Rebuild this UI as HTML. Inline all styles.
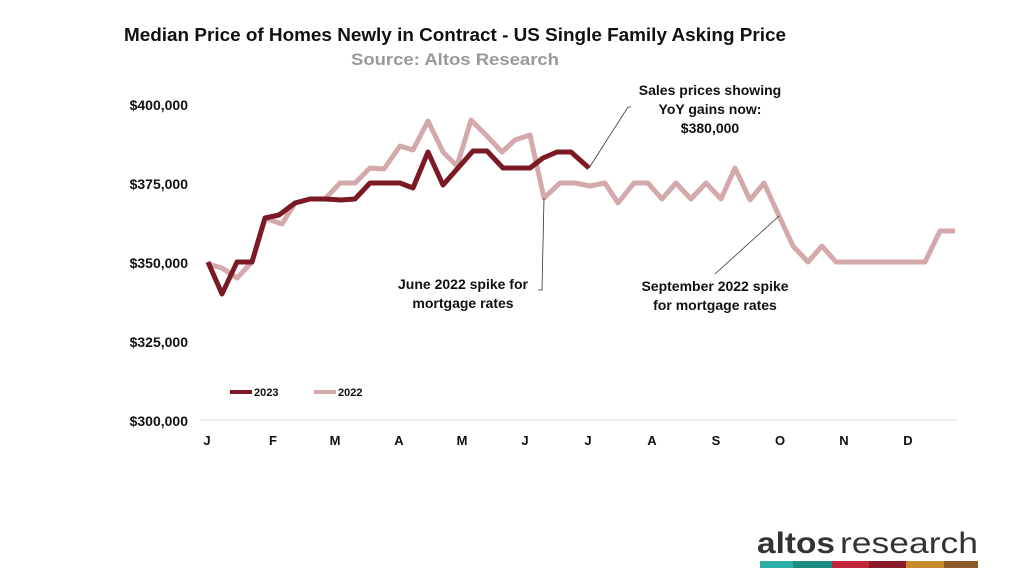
<!DOCTYPE html>
<html><head><meta charset="utf-8"><style>
body{margin:0;background:#fff;width:1024px;height:576px;overflow:hidden}
svg text{font-family:"Liberation Sans",sans-serif;font-weight:bold}
</style></head><body>
<svg width="1024" height="576" viewBox="0 0 1024 576">
<text x="455" y="41" font-size="18" text-anchor="middle" fill="#111" textLength="662" lengthAdjust="spacingAndGlyphs">Median Price of Homes Newly in Contract - US Single Family Asking Price</text>
<text x="455" y="65" font-size="17" text-anchor="middle" fill="#999" textLength="208" lengthAdjust="spacingAndGlyphs">Source: Altos Research</text>
<g font-size="14" fill="#111" text-anchor="end">
<text x="188" y="110">$400,000</text>
<text x="188" y="189">$375,000</text>
<text x="188" y="268">$350,000</text>
<text x="188" y="347">$325,000</text>
<text x="188" y="426">$300,000</text>
</g>
<line x1="200" y1="420" x2="957" y2="420" stroke="#d9d9d9" stroke-width="1"/>
<g font-size="13" fill="#111" text-anchor="middle">
<text x="207" y="445">J</text><text x="273" y="445">F</text><text x="335" y="445">M</text><text x="399" y="445">A</text><text x="462" y="445">M</text><text x="525" y="445">J</text><text x="588" y="445">J</text><text x="652" y="445">A</text><text x="716" y="445">S</text><text x="780" y="445">O</text><text x="844" y="445">N</text><text x="908" y="445">D</text>
</g>
<polyline fill="none" stroke="#d4a9ac" stroke-width="5" stroke-linejoin="round" points="208,264 222,268 237,278 252,262 265,218 282,224 295,203 310,199 325,199 340,183 355,183 370,168 384,169 400,146 413,150 428,121 443,152 457,166 471,120 487,136 502,152 515,140 530,135 544,198 560,183 575,183 590,186 605,183 618,203 634,183 648,183 662,199 676,183 691,199 706,183 721,199 735,168 750,200 764,183 780,218 793,246 808,262 822,246 836,262 925,262 940,231 955,231"/>
<polyline fill="none" stroke="#7b1a25" stroke-width="5" stroke-linejoin="round" points="208,262 222,294 237,262 252,262 265,218 279,215 295,203 310,199 325,199 341,200 355,199 370,183 388,183 400,183 413,188 428,152 443,185 458,168 473,151 487,151 503,168 519,168 530,168 543,158 557,152 571,152 589,168"/>
<polyline fill="none" stroke="#333" stroke-width="0.8" points="589,168 628,107 631,107"/>
<polyline fill="none" stroke="#333" stroke-width="0.8" points="544,198 542,290 538,290"/>
<line x1="779" y1="216" x2="715" y2="274" stroke="#333" stroke-width="0.8"/>
<g font-size="14" fill="#111" text-anchor="middle">
<text x="710" y="95">Sales prices showing</text>
<text x="710" y="114">YoY gains now:</text>
<text x="710" y="133">$380,000</text>
<text x="463" y="289">June 2022 spike for</text>
<text x="463" y="308">mortgage rates</text>
<text x="715" y="291">September 2022 spike</text>
<text x="715" y="310">for mortgage rates</text>
</g>
<line x1="230" y1="392" x2="252" y2="392" stroke="#7b1a25" stroke-width="4"/>
<text x="254" y="396" font-size="11" fill="#111">2023</text>
<line x1="314" y1="392" x2="336" y2="392" stroke="#d4a9ac" stroke-width="4"/>
<text x="338" y="396" font-size="11" fill="#111">2022</text>
<text x="757" y="553" font-size="30" fill="#333" textLength="78" lengthAdjust="spacingAndGlyphs">altos</text>
<text x="840" y="553" font-size="30" fill="#333" style="font-weight:normal" textLength="138" lengthAdjust="spacingAndGlyphs">research</text>
<rect x="760" y="561" width="33" height="7" fill="#2ab0a6"/>
<rect x="793" y="561" width="39" height="7" fill="#1f8a82"/>
<rect x="832" y="561" width="37" height="7" fill="#c0283a"/>
<rect x="869" y="561" width="37" height="7" fill="#8b1a2a"/>
<rect x="906" y="561" width="38" height="7" fill="#c98a2c"/>
<rect x="944" y="561" width="34" height="7" fill="#8f5a2a"/>
</svg>
</body></html>
